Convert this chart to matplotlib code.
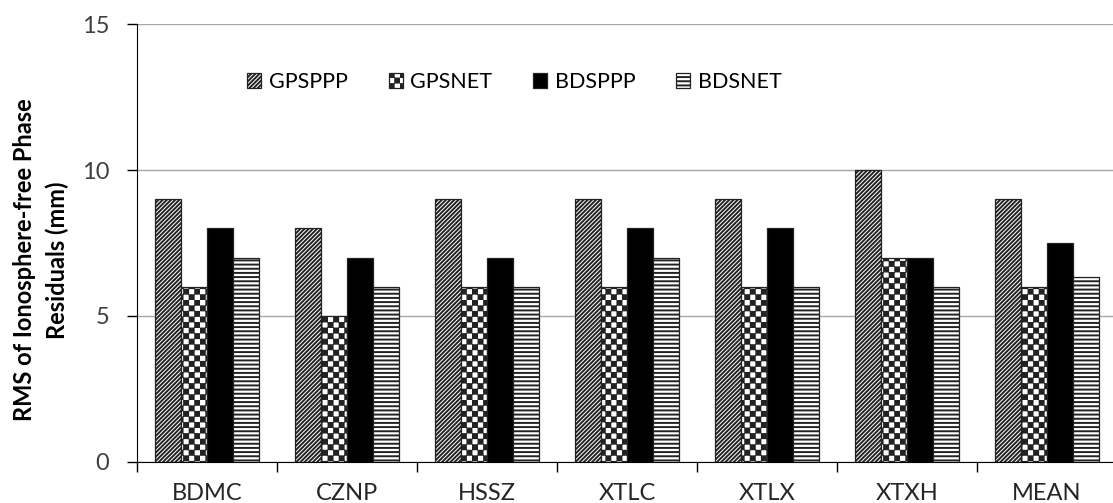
import numpy as np
import matplotlib
matplotlib.use("Agg")
import matplotlib.pyplot as plt
import matplotlib.hatch as mhatch
from matplotlib.path import Path
from matplotlib.ticker import FixedLocator

# ---------------- data ----------------
stations = ["BDMC", "CZNP", "HSSZ", "XTLC", "XTLX", "XTXH", "MEAN"]
series_names = ["GPSPPP", "GPSNET", "BDSPPP", "BDSNET"]
gpsppp = [9, 8, 9, 9, 9, 10, 9]
gpsnet = [6, 5, 6, 6, 6, 7, 6]
bdsppp = [8, 7, 7, 8, 8, 7, 7.5]
bdsnet = [7, 6, 6, 7, 6, 6, 6.33]
y_ticks = [0, 5, 10, 15]
y_label = "RMS of Ionosphere-free Phase\nResiduals (mm)"


# ---------------- checkerboard hatch ----------------
class CheckerHatch(mhatch.HatchPatternBase):
    def __init__(self, hatch, density):
        self.n = 18 if '*' in hatch else 0
        self.cells = [(i, j) for i in range(self.n) for j in range(self.n)
                      if (i + j) % 2 == 0]
        self.num_vertices = len(self.cells) * 5

    def set_vertices_and_codes(self, vertices, codes):
        c = 1.0 / self.n
        d = 0.0075
        for k, (i, j) in enumerate(self.cells):
            x0, y0 = i * c + d, j * c + d
            x1, y1 = (i + 1) * c - d, (j + 1) * c - d
            vertices[5 * k:5 * k + 5] = [(x0, y0), (x1, y0), (x1, y1), (x0, y1), (x0, y0)]
            codes[5 * k:5 * k + 5] = [Path.MOVETO, Path.LINETO, Path.LINETO,
                                      Path.LINETO, Path.CLOSEPOLY]


mhatch._hatch_types[mhatch._hatch_types.index(mhatch.Stars)] = CheckerHatch

plt.rcParams['font.family'] = ['Lato', 'DejaVu Sans']
plt.rcParams['hatch.linewidth'] = 1.4
plt.rcParams['hatch.color'] = 'black'

fig = plt.figure(figsize=(11.13, 5.03), dpi=100)
ax = fig.add_axes([137 / 1113, 41.3 / 503, 980 / 1113, 437.4 / 503])

x = np.arange(len(stations))
w = 0.184
styles = [
    dict(facecolor='white', hatch='/' * 8),
    dict(facecolor='white', hatch='*'),
    dict(facecolor='black', hatch=None),
    dict(facecolor='white', hatch='----'),
]
values = [gpsppp, gpsnet, bdsppp, bdsnet]
for k, (vals, name, st) in enumerate(zip(values, series_names, styles)):
    ax.bar(x + (k - 1.5) * w, vals, width=w, edgecolor='#222222', linewidth=0.9,
           label=name, zorder=3, **st)

ax.set_xlim(-0.5, len(stations) - 0.5)
ax.set_ylim(0, 15)
ax.set_yticks(y_ticks)
ax.yaxis.grid(True, color='#a6a6a6', linewidth=1.0, zorder=0)
ax.set_axisbelow(True)

for s in ['top', 'right']:
    ax.spines[s].set_visible(False)
ax.spines['left'].set_color('black')
ax.spines['bottom'].set_color('black')

ax.set_xticks(x)
ax.set_xticklabels(stations)
ax.xaxis.set_minor_locator(FixedLocator(np.arange(-0.5, len(stations), 1.0)))
ax.tick_params(axis='x', which='major', length=0, pad=15, labelsize=17, labelcolor='#262626')
ax.tick_params(axis='x', which='minor', length=7, width=1, direction='out', color='black')
ax.tick_params(axis='y', length=7, width=1, direction='out', pad=13, labelsize=17,
               labelcolor='#404040', color='black')

fig.text(41 / 1113, 243 / 503, y_label, rotation=90, ha='center', va='center',
         fontsize=17, fontweight='bold', linespacing=1.5)

leg = ax.legend(loc='center', bbox_to_anchor=(0.385, 0.868), ncol=4, frameon=False,
                fontsize=15.5, handlelength=0.65, handleheight=0.65, handletextpad=0.35,
                columnspacing=1.9, borderaxespad=0)

fig.savefig('out.png', dpi=100)
